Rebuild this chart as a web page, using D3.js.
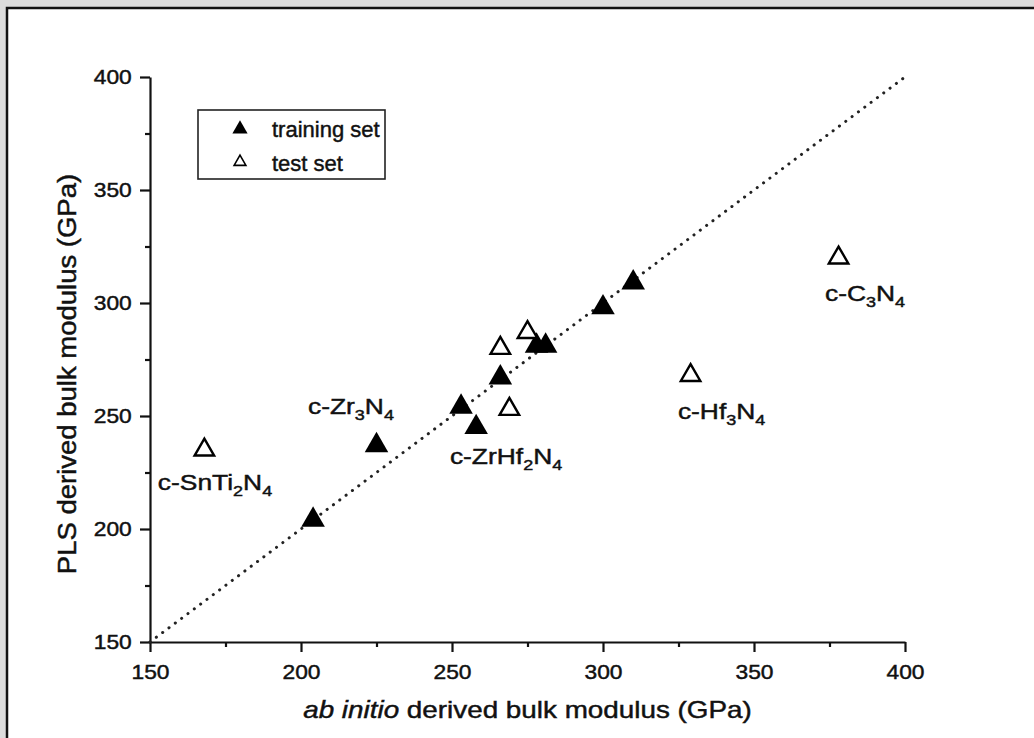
<!DOCTYPE html>
<html>
<head>
<meta charset="utf-8">
<script src="https://cdn.jsdelivr.net/npm/d3@7"></script>
<style>
  body { margin: 0; background: #dcdcdc; }
  svg { display: block; font-family: "Liberation Sans", Arial, sans-serif; }
  svg text { stroke: #111; stroke-width: 0.45px; }
  .axis path, .axis line { stroke: #111; stroke-width: 2.2; }
  .axis text { font-size: 20px; fill: #111; font-family: "Liberation Sans", Arial, sans-serif; }
</style>
</head>
<body>
<svg id="chart"></svg>
<script>
// training set (filled triangles): ab initio vs PLS bulk modulus, GPa
const trainX = [204, 225, 253, 258, 266, 278, 281, 300, 310];
const trainY = [204, 237, 254, 245, 267, 281, 281, 298, 309];
// test set (open triangles)
const testX = [168, 266, 275, 269, 329, 378];
const testY = [235, 280, 287, 253, 268, 320];
// compound annotations, anchored in data units
const labelText = ['c-SnTi2N4', 'c-Zr3N4', 'c-ZrHf2N4', 'c-Hf3N4', 'c-C3N4'];
const labelX = [152.6, 202.3, 249.3, 324.8, 373.5];
const labelY = [217.3, 250.9, 228.8, 248.5, 300.9];
const majorTicks = [150, 200, 250, 300, 350, 400];
const minorTicks = [175, 225, 275, 325, 375];

class ScatterChart {
    constructor(_config) {
        this.config = {
            parentElement: _config.parentElement,
            containerWidth: 1034,
            containerHeight: 738,
            margin: { top: 77, right: 129, bottom: 96, left: 150 },
            textStretch: 1.2
        };
        this.initVis();
    }

    initVis() {
        let vis = this;
        vis.width = vis.config.containerWidth - vis.config.margin.left - vis.config.margin.right;
        vis.height = vis.config.containerHeight - vis.config.margin.top - vis.config.margin.bottom;

        vis.xScale = d3.scaleLinear().domain([150, 400]).range([0, vis.width]);
        vis.yScale = d3.scaleLinear().domain([150, 400]).range([vis.height, 0]);

        vis.svg = d3.select(vis.config.parentElement)
            .attr('width', vis.config.containerWidth)
            .attr('height', vis.config.containerHeight);

        // page panel (scanned figure look)
        vis.svg.append('rect')
            .attr('x', 0).attr('y', 0)
            .attr('width', vis.config.containerWidth).attr('height', vis.config.containerHeight)
            .attr('fill', '#dcdcdc');
        vis.svg.append('rect')
            .attr('x', 7).attr('y', 8)
            .attr('width', vis.config.containerWidth).attr('height', vis.config.containerHeight)
            .attr('fill', '#fff');
        vis.svg.append('path')
            .attr('d', `M7,${vis.config.containerHeight} V8 H${vis.config.containerWidth}`)
            .attr('fill', 'none').attr('stroke', '#111').attr('stroke-width', 2.5);

        vis.chart = vis.svg.append('g')
            .attr('transform', `translate(${vis.config.margin.left},${vis.config.margin.top})`);

        vis.renderVis();
    }

    stretchedText(parent, x, y, size) {
        let vis = this;
        return parent.append('g')
            .attr('transform', `translate(${x},${y}) scale(${vis.config.textStretch},1)`)
            .append('text')
            .attr('font-size', size)
            .attr('fill', '#111');
    }

    renderVis() {
        let vis = this;

        // minor ticks
        vis.chart.append('g')
            .attr('class', 'axis')
            .attr('transform', `translate(0,${vis.height})`)
            .call(d3.axisBottom(vis.xScale).tickValues(minorTicks).tickSize(5).tickFormat(''))
            .call(g => g.select('.domain').remove());
        vis.chart.append('g')
            .attr('class', 'axis')
            .call(d3.axisLeft(vis.yScale).tickValues(minorTicks).tickSize(5).tickFormat(''))
            .call(g => g.select('.domain').remove());

        // major axes
        vis.chart.append('g')
            .attr('class', 'axis x-axis')
            .attr('transform', `translate(0,${vis.height})`)
            .call(d3.axisBottom(vis.xScale).tickValues(majorTicks).tickSize(10).tickSizeOuter(0).tickPadding(13))
            .call(g => g.selectAll('text').attr('transform', 'scale(1.14,1)'));
        vis.chart.append('g')
            .attr('class', 'axis y-axis')
            .call(d3.axisLeft(vis.yScale).tickValues(majorTicks).tickSize(10).tickSizeOuter(0).tickPadding(6))
            .call(g => g.selectAll('text').attr('transform', 'scale(1.14,1)'));

        // diagonal y = x
        vis.chart.append('line')
            .attr('x1', vis.xScale(150)).attr('y1', vis.yScale(150))
            .attr('x2', vis.xScale(400)).attr('y2', vis.yScale(400))
            .attr('stroke', '#222')
            .attr('stroke-width', 3)
            .attr('stroke-linecap', 'round')
            .attr('stroke-dasharray', '0.1,7.8');

        const triFilled = d3.symbol().type(d3.symbolTriangle).size(240);
        const triOpen = d3.symbol().type(d3.symbolTriangle).size(165);

        vis.chart.selectAll('.train')
            .data(trainX.map((d, i) => ({ x: d, y: trainY[i] })))
            .join('path')
            .attr('class', 'train')
            .attr('d', triFilled)
            .attr('transform', d => `translate(${vis.xScale(d.x)},${vis.yScale(d.y)})`)
            .attr('fill', '#000');

        vis.chart.selectAll('.test')
            .data(testX.map((d, i) => ({ x: d, y: testY[i] })))
            .join('path')
            .attr('class', 'test')
            .attr('d', triOpen)
            .attr('transform', d => `translate(${vis.xScale(d.x)},${vis.yScale(d.y)})`)
            .attr('fill', '#fff')
            .attr('stroke', '#000')
            .attr('stroke-width', 2.4);

        // compound labels with subscripts
        labelText.forEach((name, i) => {
            const t = vis.stretchedText(vis.chart, vis.xScale(labelX[i]), vis.yScale(labelY[i]), 22);
            let sub = false;
            name.split(/(\d)/).filter(s => s.length).forEach(part => {
                const isDigit = /\d/.test(part);
                const span = t.append('tspan').text(part);
                if (isDigit) {
                    span.attr('font-size', 15).attr('dy', 6);
                    sub = true;
                } else if (sub) {
                    span.attr('dy', -6);
                    sub = false;
                }
            });
        });

        // legend
        const legend = vis.svg.append('g').attr('transform', 'translate(198,110)');
        legend.append('rect')
            .attr('width', 187).attr('height', 69)
            .attr('fill', 'none').attr('stroke', '#222').attr('stroke-width', 1.6);
        legend.append('path')
            .attr('d', d3.symbol().type(d3.symbolTriangle).size(100))
            .attr('transform', 'translate(42,19)')
            .attr('fill', '#000');
        legend.append('path')
            .attr('d', d3.symbol().type(d3.symbolTriangle).size(60))
            .attr('transform', 'translate(42,52)')
            .attr('fill', '#fff').attr('stroke', '#000').attr('stroke-width', 1.6);
        legend.append('text').attr('x', 74).attr('y', 27).attr('font-size', 22).attr('fill', '#111').text('training set');
        legend.append('text').attr('x', 74).attr('y', 61).attr('font-size', 22).attr('fill', '#111').text('test set');

        // axis titles
        const xTitle = vis.svg.append('g')
            .attr('transform', `translate(${vis.config.margin.left + vis.width / 2},718) scale(1.16,1)`)
            .append('text')
            .attr('text-anchor', 'middle')
            .attr('font-size', 24)
            .attr('fill', '#111');
        xTitle.append('tspan').attr('font-style', 'italic').text('ab initio');
        xTitle.append('tspan').text(' derived bulk modulus (GPa)');

        vis.svg.append('g')
            .attr('transform', `translate(76,374) rotate(-90) scale(1.1,1)`)
            .append('text')
            .attr('text-anchor', 'middle')
            .attr('font-size', 25)
            .attr('fill', '#111')
            .text('PLS derived bulk modulus (GPa)');
    }
}

const chart = new ScatterChart({ parentElement: '#chart' });
</script>
</body>
</html>
